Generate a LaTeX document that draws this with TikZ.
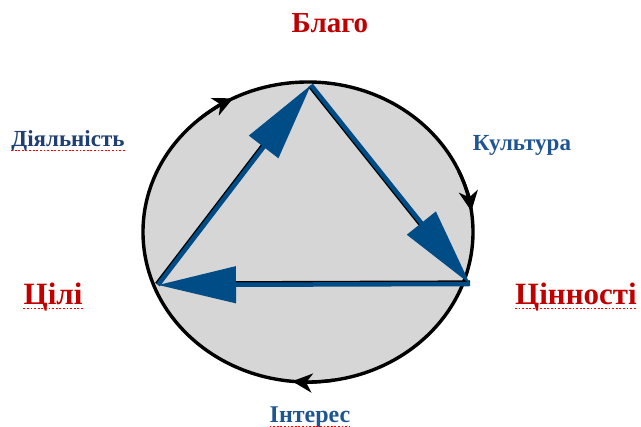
\documentclass[tikz,border=0pt]{standalone}
\usepackage{fontspec}
\setmainfont{Liberation Serif}
\usetikzlibrary{arrows.meta,calc}
\definecolor{redt}{HTML}{C00000}
\definecolor{bluet}{HTML}{1F5591}
\definecolor{bluedk}{HTML}{1F3F73}
\definecolor{trib}{HTML}{004C87}
\definecolor{fillg}{HTML}{D6D6D6}
\tikzset{
  redlbl/.style={text=redt, font=\bfseries\fontsize{31}{33}\selectfont, anchor=base, inner sep=0pt},
  bluelbl/.style={text=bluet, font=\bfseries\fontsize{23}{25}\selectfont, anchor=base, inner sep=0pt},
  triedge/.style={draw=trib, line width=4.5pt, -{Triangle[length=78pt,width=36pt]}},
  shadowedge/.style={draw=black, line width=2.2pt, shorten >=70pt},
  circarrow/.style={draw=black, line width=3.2pt, -{Stealth[length=20pt,width=19pt,inset=6pt]}},
  spell/.style={draw=red, line width=1.8pt, dash pattern=on 1.8pt off 1.8pt}
}
\begin{document}
\begin{tikzpicture}[x=1pt,y=-1pt]
\useasboundingbox (0,0) rectangle (641,427);
\fill[white] (0,0) rectangle (641,427);
\coordinate (C) at (308,232);
\draw[fill=fillg, line width=3.4pt] (C) ellipse [x radius=165, y radius=150];
% arrows on circle
\draw[circarrow] ($(C)+(229:165 and 150)$) arc[start angle=229, end angle=243, x radius=165, y radius=150];
\draw[circarrow] ($(C)+(336:165 and 150)$) arc[start angle=336, end angle=352, x radius=165, y radius=150];
\draw[circarrow] ($(C)+(81:165 and 150)$) arc[start angle=81, end angle=95.5, x radius=165, y radius=150];
% triangle
\coordinate (T) at (311,85);
\coordinate (R) at (470,284);
\coordinate (L) at (158,285);
\draw[shadowedge] ([shift={(-2,-1.5)}]L) -- ([shift={(-2,-1.5)}]T);
\draw[shadowedge] ([shift={(-2,1.5)}]T) -- ([shift={(-2,1.5)}]R);
\draw[shadowedge] ([shift={(0,-2.5)}]R) -- ([shift={(0,-2.5)}]L);
\draw[triedge] (L) -- (T);
\draw[triedge] (T) -- (R);
\draw[triedge] (R) -- (L);
% labels
\node[redlbl, font=\bfseries\fontsize{29}{31}\selectfont] (blago) at (330,33) {Благо};
\node[redlbl] (tsili) at (53,305) {Цілі};
\node[redlbl] (tsinn) at (576,305) {Цінності};
\node[bluelbl, text=bluedk] (diyal) at (68,147) {Діяльність};
\node[bluelbl] (kult) at (522,151) {Культура};
\node[bluelbl, font=\bfseries\fontsize{24}{26}\selectfont] (inter) at (310,423) {Інтерес};
% spell-check underlines
\foreach \n in {tsili,tsinn,diyal,inter}{
  \draw[spell] ($(\n.base west)+(0,3.5)$) -- ($(\n.base east)+(0,3.5)$);
}
\end{tikzpicture}
\end{document}
